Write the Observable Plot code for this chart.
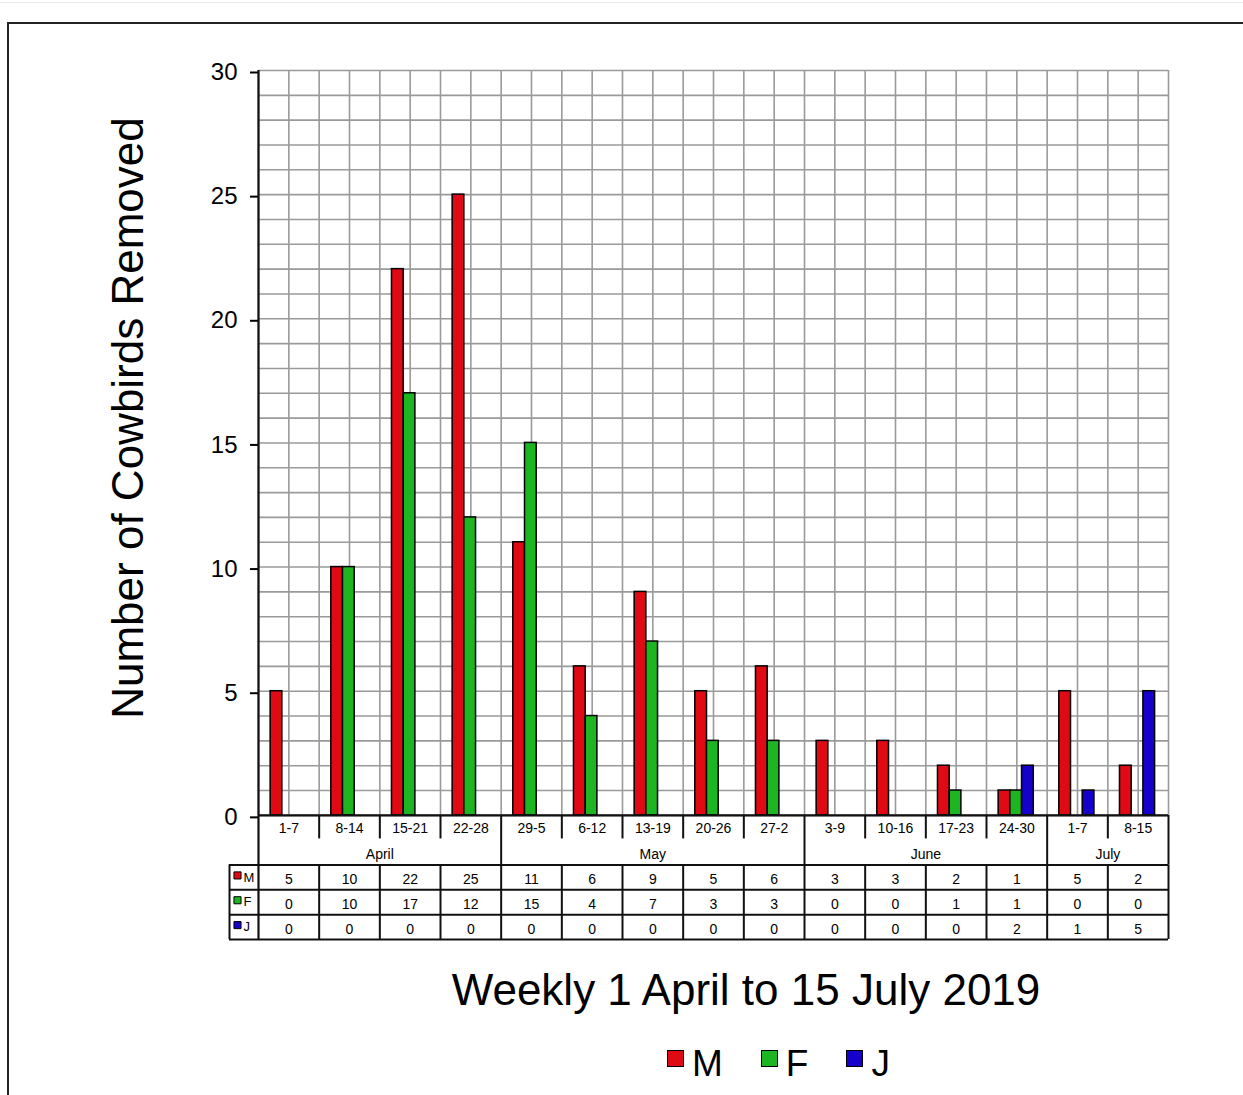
<!DOCTYPE html>
<html><head><meta charset="utf-8">
<script src="https://cdn.jsdelivr.net/npm/d3@7"></script>
<script src="https://cdn.jsdelivr.net/npm/@observablehq/plot@0.6"></script>
<style>
body{margin:0;background:#fff;font-family:"Liberation Sans",Arial,sans-serif;}
#wrap{position:relative;width:1243px;height:1095px;overflow:hidden;background:#fff;}
#topline{position:absolute;left:0;top:2px;width:1243px;height:1px;background:#e6e6e6;}
#frame{position:absolute;left:7px;top:22px;width:1250px;height:1090px;border-left:2px solid #222;border-top:2px solid #222;}
#chart{position:absolute;left:0;top:0;}
#ylabel{position:absolute;left:128px;top:418px;transform:translate(-50%,-50%) rotate(-90deg);font-size:44px;white-space:nowrap;color:#000;}
#title{position:absolute;left:746px;top:990px;transform:translate(-50%,-50%);font-size:44px;white-space:nowrap;color:#000;}
#legend{position:absolute;top:1043px;left:667px;display:flex;align-items:center;font-size:37px;color:#000;}
.sw{display:inline-block;width:17px;height:17px;border:1.5px solid #000;box-sizing:border-box;margin-right:8px;position:relative;top:-6px;}
.it{display:flex;align-items:center;margin-right:38px;}
</style>
</head><body>
<div id="wrap">
  <div id="topline"></div>
  <div id="frame"></div>
  <div id="chart"></div>
  <div id="ylabel">Number of Cowbirds Removed</div>
  <div id="title">Weekly 1 April to 15 July 2019</div>
  <div id="legend"></div>
</div>
<script>
const weeks = ["1-7","8-14","15-21","22-28","29-5","6-12","13-19","20-26","27-2","3-9","10-16","17-23","24-30","1-7","8-15"];
const months = ["April","May","June","July"];
const monthWeeks = [4,5,4,2];
const male = [5,10,22,25,11,6,9,5,6,3,3,2,1,5,2];
const female = [0,10,17,12,15,4,7,3,3,0,0,1,1,0,0];
const juvenile = [0,0,0,0,0,0,0,0,0,0,0,0,2,1,5];
const seriesNames = ["M","F","J"];
const seriesColors = ["#e00a14","#1db522","#1500cc"];
const yTicks = [0,5,10,15,20,25,30];

const seriesValues = [male, female, juvenile];
const barW = 0.193, barStart = 0.2;
const bars = [];
seriesValues.forEach((vals, k) => vals.forEach((v, i) => {
  if (v > 0) bars.push({i, k, s: seriesNames[k], v});
}));
const cells = [];
seriesValues.forEach((vals, k) => vals.forEach((v, i) => cells.push({i, k, v})));
let acc = 0;
const monthSpans = months.map((m, j) => { const a = acc; acc += monthWeeks[j]; return {m, a, b: acc}; });
const monthBounds = monthSpans.map(d => d.b).slice(0, -1);
const weekSeps = d3.range(1, weeks.length).filter(i => !monthBounds.includes(i));
const nW = weeks.length;
const labelX = -0.478;

const plot = Plot.plot({
  width: 1243, height: 950,
  marginLeft: 258, marginRight: 75, marginTop: 70, marginBottom: 11,
  x: {domain: [0, nW], axis: null},
  y: {domain: [-5, 30], axis: null},
  color: {domain: seriesNames, range: seriesColors},
  style: {fontFamily: "Liberation Sans, Arial, sans-serif", background: "transparent"},
  marks: [
    // grid
    Plot.ruleY(d3.range(0, 31), {x1: 0, x2: nW, stroke: "#9a9a9a", strokeWidth: 1.6}),
    Plot.ruleX(d3.range(0, nW + 0.01, 0.5), {y1: 0, y2: 30, stroke: "#9a9a9a", strokeWidth: 1.6}),
    // bars
    Plot.rect(bars, {x1: d => d.i + barStart + d.k * barW, x2: d => d.i + barStart + (d.k + 1) * barW,
      y1: 0, y2: "v", fill: "s", stroke: "#000", strokeWidth: 1.5}),
    // axes
    Plot.axisY({ticks: yTicks, tickSize: 8, tickPadding: 13, fontSize: 24, dy: 2, stroke: "#000", strokeWidth: 2, label: null}),
    Plot.ruleX([0], {y1: -5, y2: 30, stroke: "#111", strokeWidth: 2.2}),
    Plot.ruleY([0], {x1: 0, x2: nW, stroke: "#111", strokeWidth: 2.2}),
    // week row
    Plot.ruleX(weekSeps, {y1: 0, y2: -0.95, stroke: "#111", strokeWidth: 2}),
    Plot.ruleX(monthBounds.concat([nW]), {y1: 0, y2: -2, stroke: "#111", strokeWidth: 2}),
    Plot.text(weeks, {x: (d, i) => i + 0.5, y: -0.5, dy: 1, text: d => d, fontSize: 14, fill: "#000"}),
    Plot.text(monthSpans, {x: d => (d.a + d.b) / 2, y: -1.5, dy: 2, text: "m", fontSize: 14, fill: "#000"}),
    // data table
    Plot.ruleY([-2, -3, -4, -5], {x1: labelX, x2: nW, stroke: "#111", strokeWidth: 2}),
    Plot.ruleX(d3.range(1, nW + 1), {y1: -2, y2: -5, stroke: "#111", strokeWidth: 2}),
    Plot.ruleX([labelX], {y1: -2, y2: -5, stroke: "#111", strokeWidth: 2}),
    Plot.text(cells, {x: d => d.i + 0.5, y: d => -2.5 - d.k, dy: 2, text: d => String(d.v), fontSize: 14, fill: "#000"}),
    Plot.dot(seriesNames, {x: labelX, y: (d, k) => -2.5 - k, dx: 8, dy: -2, symbol: "square", r: 4, fill: d => d, stroke: "#000", strokeWidth: 1}),
    Plot.text(seriesNames, {x: labelX, y: (d, k) => -2.5 - k, dx: 14, text: d => d, textAnchor: "start", fontSize: 13, fill: "#000"})
  ]
});
document.getElementById("chart").appendChild(plot);

const leg = document.getElementById("legend");
seriesNames.forEach((s, k) => {
  const it = document.createElement("div"); it.className = "it";
  const sw = document.createElement("span"); sw.className = "sw"; sw.style.background = seriesColors[k];
  const t = document.createElement("span"); t.textContent = s;
  it.appendChild(sw); it.appendChild(t); leg.appendChild(it);
});
</script>
</body></html>
